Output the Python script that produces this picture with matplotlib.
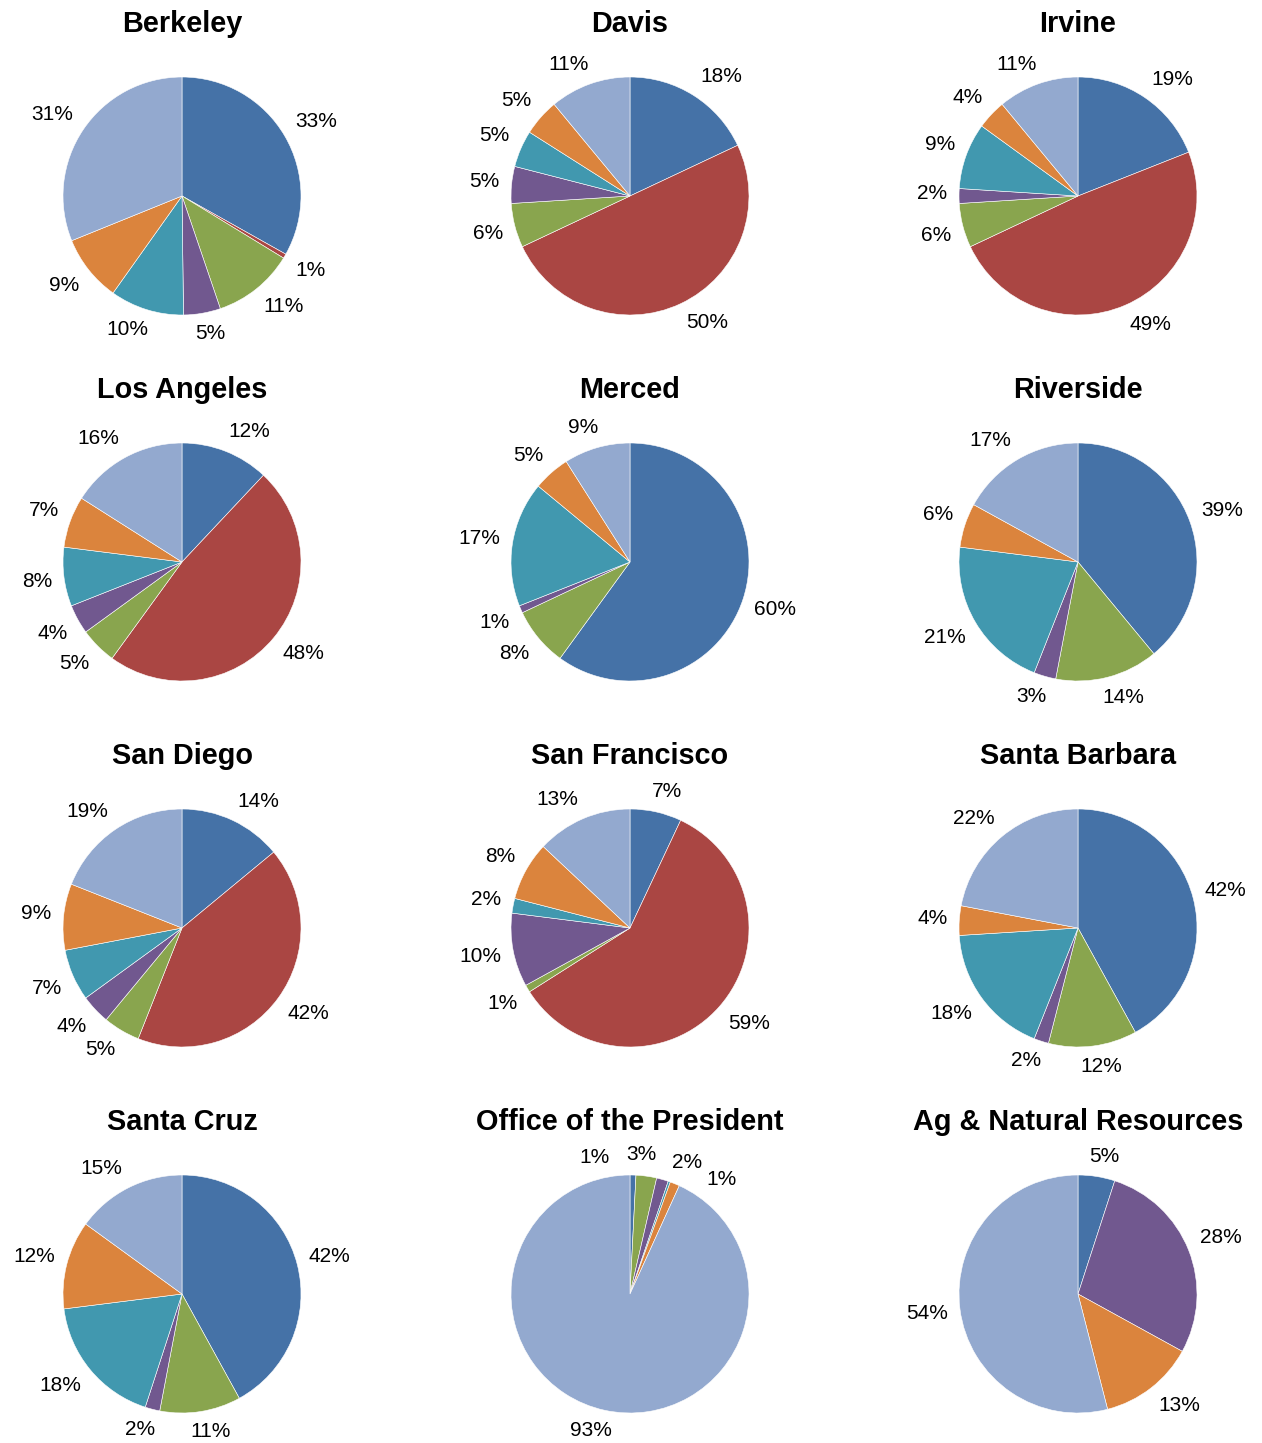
"""Small-multiple pies: share of each category by UC location."""

import numpy as np
import matplotlib
matplotlib.use("Agg")
import matplotlib.pyplot as plt

plt.rcParams["font.family"] = ["Liberation Sans", "DejaVu Sans"]

# one list per location, slices in clockwise order from 12 o'clock
campuses = [
    "Berkeley", "Davis", "Irvine",
    "Los Angeles", "Merced", "Riverside",
    "San Diego", "San Francisco", "Santa Barbara",
    "Santa Cruz", "Office of the President", "Ag & Natural Resources",
]
berkeley = [33, 0.6, 11, 5, 10, 9, 31]
davis = [18, 50, 6, 5, 5, 5, 11]
irvine = [19, 49, 6, 2, 9, 4, 11]
los_angeles = [12, 48, 5, 4, 8, 7, 16]
merced = [60, 0, 8, 1, 17, 5, 9]
riverside = [39, 0, 14, 3, 21, 6, 17]
san_diego = [14, 42, 5, 4, 7, 9, 19]
san_francisco = [7, 59, 1, 10, 2, 8, 13]
santa_barbara = [42, 0, 12, 2, 18, 4, 22]
santa_cruz = [42, 0, 11, 2, 18, 12, 15]
office_president = [0.8, 0, 2.8, 1.6, 0.3, 1.3, 93.2]
ag_natural = [5, 0, 0, 28, 0, 13, 54]

shares = [berkeley, davis, irvine, los_angeles, merced, riverside,
          san_diego, san_francisco, santa_barbara, santa_cruz,
          office_president, ag_natural]

slice_colors = ["#4572a7", "#aa4643", "#89a54e", "#71588f",
                "#4198af", "#db843d", "#93a9cf"]


def spread(angles, min_gap):
    # push crowded labels apart along the circle, keeping each group centred
    groups = [[a] for a in angles]
    merged = True
    while merged and len(groups) > 1:
        merged = False
        new = [groups[0]]
        for g in groups[1:]:
            prev = new[-1]
            pend = np.mean(prev) + (len(prev) - 1) / 2 * min_gap
            gstart = np.mean(g) - (len(g) - 1) / 2 * min_gap
            if gstart - pend < min_gap:
                new[-1] = prev + g
                merged = True
            else:
                new.append(g)
        groups = new
    out = []
    for g in groups:
        c = np.mean(g)
        out += [c + (k - (len(g) - 1) / 2) * min_gap for k in range(len(g))]
    return out


W, H = 1262, 1443
R = 119  # pie radius in pixels
col_x = [182, 630, 1078]
row_y = [196, 562, 928, 1294]
aw, ah = 440, 360

fig = plt.figure(figsize=(W / 100, H / 100), dpi=100)
renderer = fig.canvas.get_renderer()

for i, (name, vals) in enumerate(zip(campuses, shares)):
    cx, cy = col_x[i % 3], row_y[i // 3]
    ax = fig.add_axes([(cx - aw / 2) / W, 1 - (cy + ah / 2) / H, aw / W, ah / H])

    keep = [k for k, v in enumerate(vals) if v > 0]
    v = [vals[k] for k in keep]
    c = [slice_colors[k] for k in keep]
    wedges, _ = ax.pie(v, colors=c, startangle=90, counterclock=False, radius=1,
                       wedgeprops=dict(edgecolor="white", linewidth=0.4))
    ax.set_xlim(-aw / 2 / R, aw / 2 / R)
    ax.set_ylim(-ah / 2 / R, ah / 2 / R)
    ax.axis("off")

    total = sum(v)
    labels, angles = [], []
    for w, val in zip(wedges, v):
        pct = round(val / total * 100)
        if pct < 1:
            continue
        mid = (w.theta1 + w.theta2) / 2
        angles.append((90 - mid) % 360)  # clockwise from top
        labels.append(f"{pct}%")
    order = np.argsort(angles)
    sorted_angles = spread([angles[k] for k in order], 16)
    for k, a in zip(order, sorted_angles):
        dx, dy = np.sin(np.radians(a)), np.cos(np.radians(a))
        t = ax.text(0, 0, labels[k], ha="center", va="center", fontsize=15)
        bw = t.get_window_extent(renderer).width / R
        bh = 17 / R
        # label box sits just outside the rim, pushed away along the slice direction
        px, py = 1.1 * dx, 1.1 * dy
        px += bw / 2 * np.clip(2.5 * dx, -1, 1)
        py += bh / 2 * np.clip(2.5 * dy, -1, 1)
        t.set_position((px, py))

    ax.text(0, 164 / R, name, ha="center", va="baseline",
            fontsize=20.8, fontweight="bold")

fig.savefig("out.png", dpi=100)
